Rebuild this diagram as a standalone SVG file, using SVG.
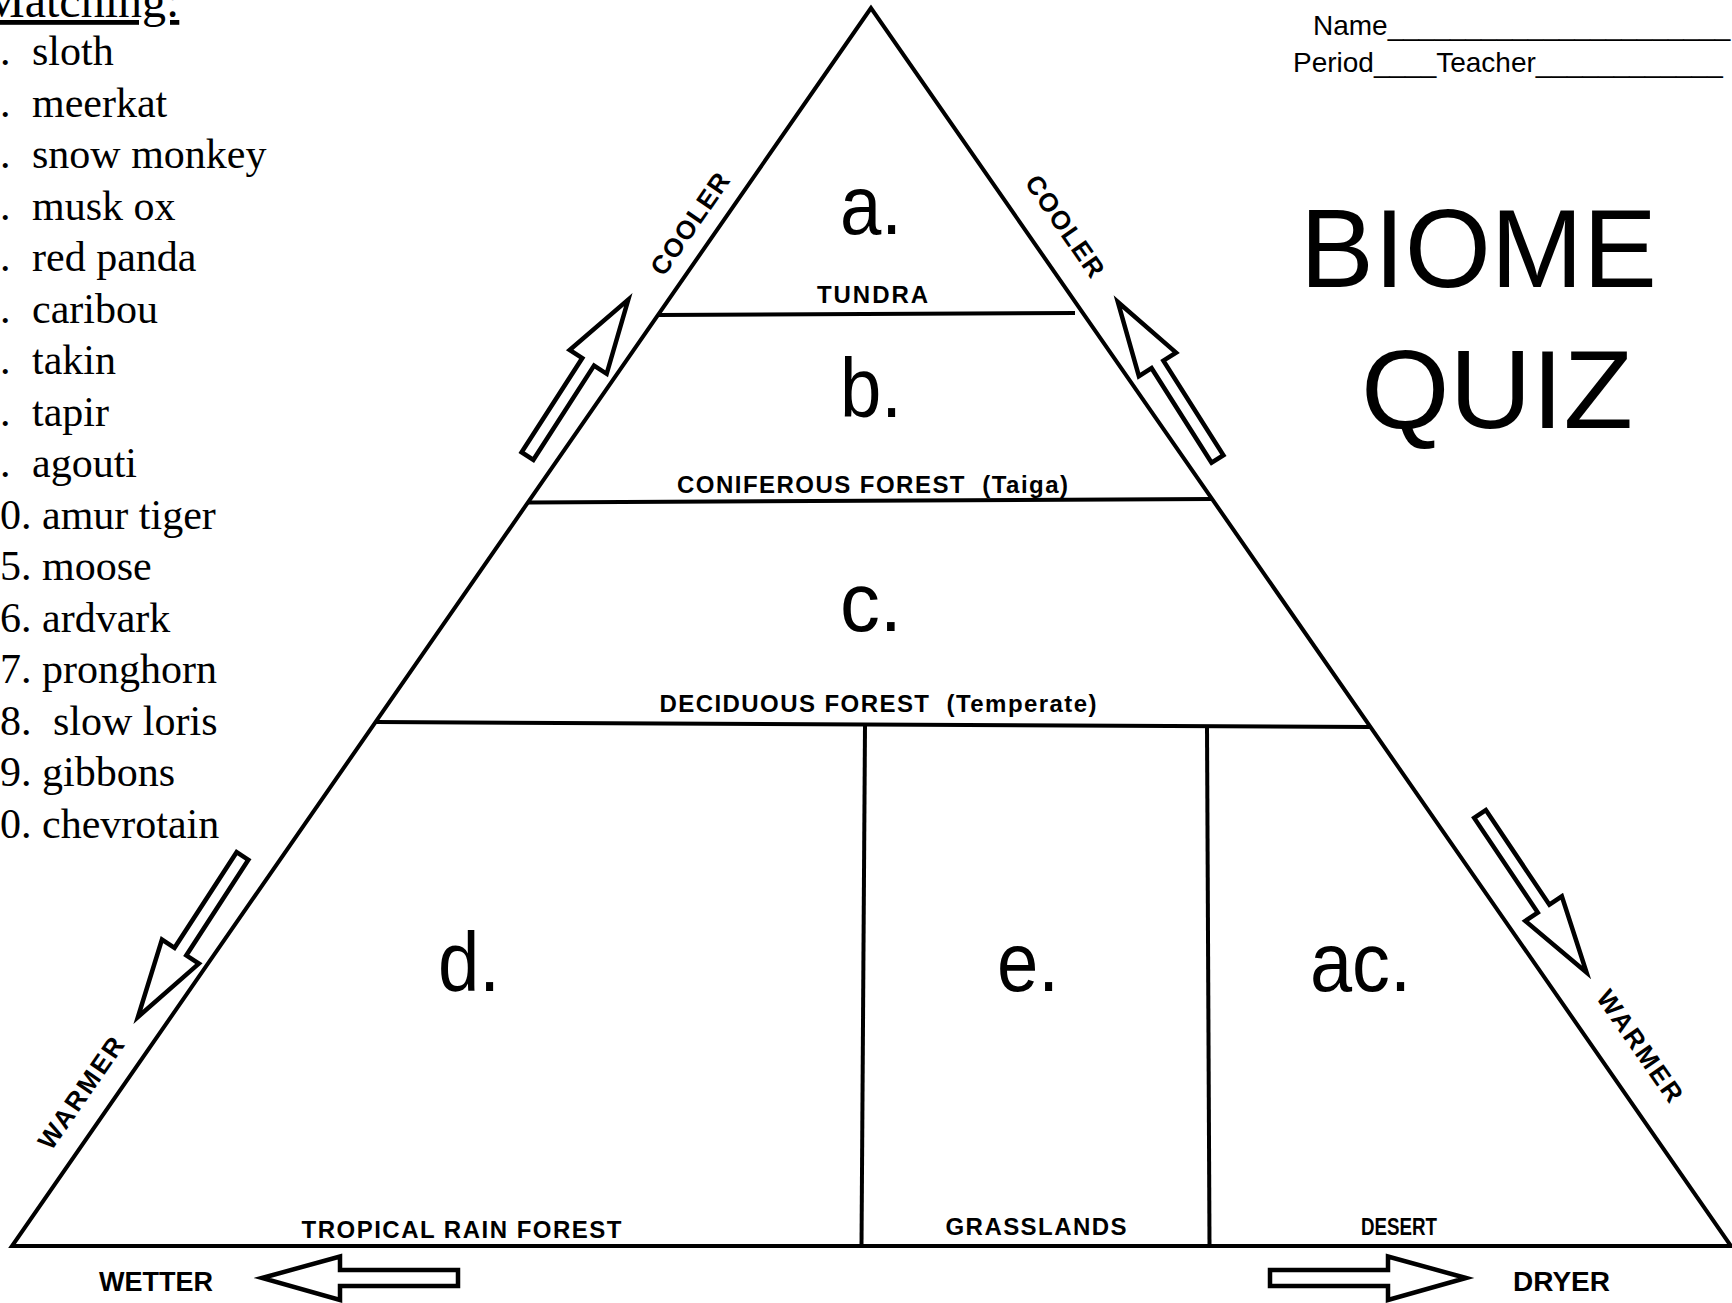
<svg xmlns="http://www.w3.org/2000/svg" width="1732" height="1303" viewBox="0 0 1732 1303">
<style>
.ln{stroke:#000;stroke-width:4;fill:none;stroke-linecap:butt}
.arw{stroke:#000;stroke-width:4.5;fill:#fff;stroke-linejoin:miter}
.ser{font-family:"Liberation Serif","Times New Roman",serif;font-size:42px;fill:#000}
.lab{font-family:"Liberation Sans",Arial,sans-serif;font-weight:bold;font-size:24px;fill:#000}
.big{font-family:"Liberation Sans",Arial,sans-serif;font-size:84px;fill:#000}
.title{font-family:"Liberation Sans",Arial,sans-serif;font-size:111px;fill:#000}
.hdr{font-family:"Liberation Sans",Arial,sans-serif;font-size:28px;fill:#000}
</style>
<rect width="1732" height="1303" fill="#fff"/>

<g id="matching-list">
<text class="ser" x="-18" y="17" style="font-size:48px" text-decoration="underline">Matching:</text>
<text class="ser" y="65"><tspan x="0">.</tspan><tspan x="32">sloth</tspan></text>
<text class="ser" y="116.5"><tspan x="0">.</tspan><tspan x="32">meerkat</tspan></text>
<text class="ser" y="168"><tspan x="0">.</tspan><tspan x="32">snow monkey</tspan></text>
<text class="ser" y="219.5"><tspan x="0">.</tspan><tspan x="32">musk ox</tspan></text>
<text class="ser" y="271"><tspan x="0">.</tspan><tspan x="32">red panda</tspan></text>
<text class="ser" y="322.5"><tspan x="0">.</tspan><tspan x="32">caribou</tspan></text>
<text class="ser" y="374"><tspan x="0">.</tspan><tspan x="32">takin</tspan></text>
<text class="ser" y="425.5"><tspan x="0">.</tspan><tspan x="32">tapir</tspan></text>
<text class="ser" y="477"><tspan x="0">.</tspan><tspan x="32">agouti</tspan></text>
<text class="ser" x="0" y="528.5">0. amur tiger</text>
<text class="ser" x="0" y="580">5. moose</text>
<text class="ser" x="0" y="631.5">6. ardvark</text>
<text class="ser" x="0" y="683">7. pronghorn</text>
<text class="ser" y="734.5"><tspan x="0">8.</tspan><tspan x="53">slow loris</tspan></text>
<text class="ser" x="0" y="786">9. gibbons</text>
<text class="ser" x="0" y="837.5">0. chevrotain</text>
</g>

<g id="header">
<text class="hdr" x="1313" y="35">Name______________________</text>
<text class="hdr" x="1293" y="72">Period____Teacher____________</text>
</g>

<g id="title">
<text class="title" x="1300" y="287" textLength="357" lengthAdjust="spacingAndGlyphs">BIOME</text>
<text class="title" x="1361" y="428" textLength="272" lengthAdjust="spacingAndGlyphs">QUIZ</text>
</g>

<g id="pyramid">
<polygon class="ln" points="871,8 12,1246 1731,1246"/>
</g>

<g id="connectors">
<line class="ln" x1="658" y1="315" x2="1075" y2="313"/>
<line class="ln" x1="528" y1="502.5" x2="1212" y2="499"/>
<line class="ln" x1="376" y1="722" x2="1370" y2="727"/>
<line class="ln" x1="865" y1="726" x2="861.5" y2="1246"/>
<line class="ln" x1="1207" y1="727" x2="1209.5" y2="1246"/>
</g>

<g id="zone-a">
<text class="big" x="840" y="234" textLength="62" lengthAdjust="spacingAndGlyphs">a.</text>
<text class="lab" x="817" y="303" textLength="111">TUNDRA</text>
</g>
<g id="zone-b">
<text class="big" x="840" y="417" textLength="62" lengthAdjust="spacingAndGlyphs">b.</text>
<text class="lab" x="677" y="493" textLength="391" xml:space="preserve">CONIFEROUS FOREST  (Taiga)</text>
</g>
<g id="zone-c">
<text class="big" x="840" y="631" textLength="62" lengthAdjust="spacingAndGlyphs">c.</text>
<text class="lab" x="659.5" y="712" textLength="437" xml:space="preserve">DECIDUOUS FOREST  (Temperate)</text>
</g>
<g id="zone-d">
<text class="big" x="438" y="991" textLength="62" lengthAdjust="spacingAndGlyphs">d.</text>
<text class="lab" x="301.5" y="1238" textLength="320">TROPICAL RAIN FOREST</text>
</g>
<g id="zone-e">
<text class="big" x="997" y="991" textLength="62" lengthAdjust="spacingAndGlyphs">e.</text>
<text class="lab" x="945.5" y="1235" textLength="181">GRASSLANDS</text>
</g>
<g id="zone-ac">
<text class="big" x="1310" y="991" textLength="101" lengthAdjust="spacingAndGlyphs">ac.</text>
<text class="lab" x="1361" y="1235" textLength="76" lengthAdjust="spacingAndGlyphs">DESERT</text>
</g>

<g id="arrows">
<polygon class="arw" transform="translate(527.5,456) rotate(-57.2)" points="0,-7 112,-7 112,-22 186,0 112,22 112,7 0,7"/>
<polygon class="arw" transform="translate(1217.5,459) rotate(-122.4)" points="0,-7 112,-7 112,-22 186,0 112,22 112,7 0,7"/>
<polygon class="arw" transform="translate(242.5,856) rotate(123)" points="0,-7 114,-7 114,-22 192,0 114,22 114,7 0,7"/>
<polygon class="arw" transform="translate(1480,814) rotate(56.1)" points="0,-7 114,-7 114,-22 191,0 114,22 114,7 0,7"/>
<polygon class="arw" points="262,1278 340,1256.5 340,1270 458,1270 458,1286 340,1286 340,1300"/>
<polygon class="arw" points="1466,1278 1388,1256.5 1388,1270 1270,1270 1270,1286 1388,1286 1388,1300"/>
</g>

<g id="axis-labels">
<text class="lab" transform="translate(690,224) rotate(-55.2)" x="0" y="9" text-anchor="middle" style="font-size:26px" textLength="118">COOLER</text>
<text class="lab" transform="translate(1065,226) rotate(55.2)" x="0" y="9" text-anchor="middle" style="font-size:26px" textLength="118">COOLER</text>
<text class="lab" transform="translate(81,1093) rotate(-55.2)" x="0" y="9" text-anchor="middle" style="font-size:26px" textLength="130">WARMER</text>
<text class="lab" transform="translate(1640,1046) rotate(55.2)" x="0" y="9" text-anchor="middle" style="font-size:26px" textLength="130">WARMER</text>
<text class="lab" x="99" y="1291" style="font-size:27px" textLength="114" lengthAdjust="spacingAndGlyphs">WETTER</text>
<text class="lab" x="1513" y="1291" style="font-size:27px" textLength="97" lengthAdjust="spacingAndGlyphs">DRYER</text>
</g>
</svg>
